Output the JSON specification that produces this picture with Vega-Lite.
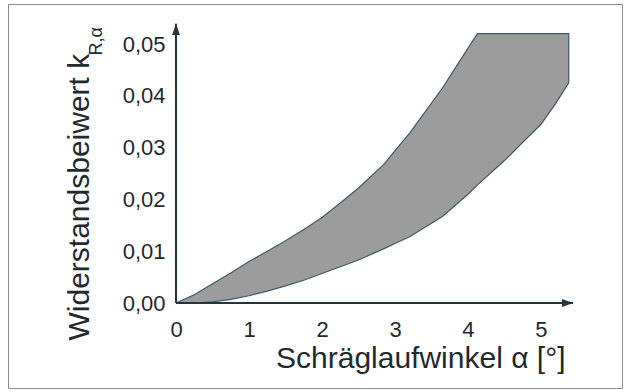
{
  "$schema": "https://vega.github.io/schema/vega-lite/v6.json",
  "width": 614,
  "height": 384,
  "autosize": "none",
  "padding": {"left": 8, "top": 4, "right": 5, "bottom": 4},
  "background": "white",
  "config": {
    "view": {"stroke": "#8a8a8a", "strokeWidth": 1},
    "font": "Liberation Sans"
  },
  "datasets": {
    "band": [
      {"alpha": 0, "kmin": 0, "kmax": 0},
      {"alpha": 0.25, "kmin": 0, "kmax": 0.0016},
      {"alpha": 0.5, "kmin": 0.0002, "kmax": 0.0037},
      {"alpha": 0.75, "kmin": 0.0007, "kmax": 0.0058},
      {"alpha": 1.0, "kmin": 0.0014, "kmax": 0.008},
      {"alpha": 1.25, "kmin": 0.0023, "kmax": 0.01},
      {"alpha": 1.5, "kmin": 0.0033, "kmax": 0.012},
      {"alpha": 1.75, "kmin": 0.0044, "kmax": 0.0142},
      {"alpha": 2.0, "kmin": 0.0057, "kmax": 0.0165},
      {"alpha": 2.25, "kmin": 0.007, "kmax": 0.0193},
      {"alpha": 2.5, "kmin": 0.0083, "kmax": 0.0222},
      {"alpha": 2.85, "kmin": 0.0105, "kmax": 0.0268},
      {"alpha": 3.0, "kmin": 0.0115, "kmax": 0.0294},
      {"alpha": 3.2, "kmin": 0.0128, "kmax": 0.0328},
      {"alpha": 3.35, "kmin": 0.0141, "kmax": 0.0357},
      {"alpha": 3.65, "kmin": 0.0167, "kmax": 0.0415},
      {"alpha": 4.0, "kmin": 0.021, "kmax": 0.0492},
      {"alpha": 4.13, "kmin": 0.0228, "kmax": 0.052},
      {"alpha": 4.5, "kmin": 0.0275, "kmax": 0.052},
      {"alpha": 4.75, "kmin": 0.031, "kmax": 0.052},
      {"alpha": 5.0, "kmin": 0.0345, "kmax": 0.052},
      {"alpha": 5.2, "kmin": 0.0385, "kmax": 0.052},
      {"alpha": 5.38, "kmin": 0.0425, "kmax": 0.052}
    ],
    "axislines": [
      {"alpha": 0, "alpha2": 5.44, "k": 0, "k2": 0},
      {"alpha": 0, "alpha2": 0, "k": 0, "k2": 0.0539}
    ],
    "arrows": [
      {"alpha": 5.44, "k": 0, "dir": "right"},
      {"alpha": 0, "k": 0.0539, "dir": "up"}
    ]
  },
  "layer": [
    {
      "data": {"name": "band"},
      "mark": {"type": "area", "fill": "#9c9c9c", "stroke": "#3b5a66", "strokeWidth": 1.2, "opacity": 1},
      "encoding": {
        "x": {
          "field": "alpha", "type": "quantitative",
          "scale": {"domain": [-2.3014, 6.1096], "nice": false, "zero": false},
          "axis": {
            "orient": "bottom", "offset": -85,
            "values": [0, 1, 2, 3, 4, 5], "format": "d",
            "domain": false, "ticks": false, "tickSize": 0, "grid": false,
            "labelFont": "Liberation Sans", "labelFontSize": 22, "labelColor": "#1f2a30",
            "labelPadding": 16, "labelFlush": false,
            "title": "Schräglaufwinkel α [°]",
            "titleFont": "Liberation Sans", "titleFontSize": 30, "titleFontWeight": "normal",
            "titleColor": "#1f2a30", "titleAngle": 0, "titleAlign": "right",
            "titleBaseline": "alphabetic", "titleX": 557, "titleY": 64
          }
        },
        "y": {
          "field": "kmax", "type": "quantitative",
          "scale": {"domain": [-0.016409, 0.057722], "nice": false, "zero": false},
          "axis": {
            "orient": "left", "offset": -168,
            "values": [0, 0.01, 0.02, 0.03, 0.04, 0.05],
            "labelExpr": "replace(format(datum.value, '.2f'), '.', ',')",
            "domain": false, "ticks": false, "tickSize": 0, "grid": false,
            "labelFont": "Liberation Sans", "labelFontSize": 22, "labelColor": "#1f2a30",
            "labelPadding": 11, "labelFlush": false,
            "title": "Widerstandsbeiwert k",
            "titleFont": "Liberation Sans", "titleFontSize": 30, "titleFontWeight": "normal",
            "titleColor": "#1f2a30", "titleAngle": -90, "titleAlign": "left",
            "titleBaseline": "alphabetic", "titleX": -88, "titleY": 336
          }
        },
        "y2": {"field": "kmin"}
      }
    },
    {
      "data": {"name": "axislines"},
      "mark": {"type": "rule", "color": "#25343c", "strokeWidth": 2},
      "encoding": {
        "x": {"field": "alpha", "type": "quantitative", "title": "Schräglaufwinkel α [°]",
              "scale": {"domain": [-2.3014, 6.1096], "nice": false, "zero": false}},
        "x2": {"field": "alpha2"},
        "y": {
          "field": "k", "type": "quantitative",
          "scale": {"domain": [-0.016409, 0.057722], "nice": false, "zero": false},
          "axis": {
            "orient": "right", "offset": 0,
            "labels": false, "domain": false, "ticks": false, "tickSize": 0, "grid": false,
            "title": "R,α",
            "titleFont": "Liberation Sans", "titleFontSize": 18, "titleFontWeight": "normal",
            "titleColor": "#1f2a30", "titleAngle": -90, "titleAlign": "left",
            "titleBaseline": "alphabetic", "titleX": -521, "titleY": 51
          }
        },
        "y2": {"field": "k2"}
      }
    },
    {
      "data": {"name": "arrows"},
      "mark": {"type": "point", "filled": true, "opacity": 1, "color": "#25343c", "size": 500},
      "encoding": {
        "x": {"field": "alpha", "type": "quantitative", "title": "Schräglaufwinkel α [°]",
              "scale": {"domain": [-2.3014, 6.1096], "nice": false, "zero": false}},
        "y": {"field": "k", "type": "quantitative", "axis": null,
              "scale": {"domain": [-0.016409, 0.057722], "nice": false, "zero": false}},
        "shape": {
          "field": "dir", "type": "nominal", "legend": null,
          "scale": {"domain": ["right", "up"], "range": ["M0,0L-1,-0.35L-1,0.35Z", "M0,0L-0.35,1L0.35,1Z"]}
        }
      }
    }
  ],
  "resolve": {"axis": {"y": "independent"}}
}
